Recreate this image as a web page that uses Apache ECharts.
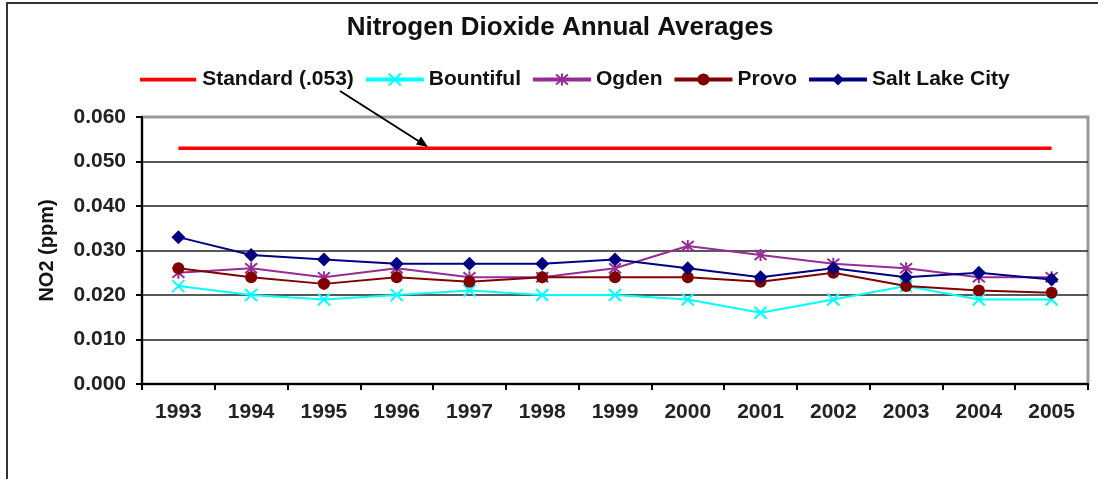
<!DOCTYPE html>
<html>
<head>
<meta charset="utf-8">
<script src="https://cdn.jsdelivr.net/npm/echarts@6/dist/echarts.min.js"></script>
<style>
  body { margin: 0; background: #fff; }
  #main { width: 1098px; height: 479px; }
</style>
</head>
<body>
<div id="main"></div>
<script>
// NO2 annual averages (ppm)
var years = ['1993', '1994', '1995', '1996', '1997', '1998', '1999', '2000', '2001', '2002', '2003', '2004', '2005']
var standard = [0.053, 0.053, 0.053, 0.053, 0.053, 0.053, 0.053, 0.053, 0.053, 0.053, 0.053, 0.053, 0.053]
var bountiful = [0.022, 0.020, 0.019, 0.020, 0.021, 0.020, 0.020, 0.019, 0.016, 0.019, 0.022, 0.019, 0.019]
var ogden = [0.025, 0.026, 0.024, 0.026, 0.024, 0.024, 0.026, 0.031, 0.029, 0.027, 0.026, 0.024, 0.024]
var provo = [0.026, 0.024, 0.0225, 0.024, 0.023, 0.024, 0.024, 0.024, 0.023, 0.025, 0.022, 0.021, 0.0205]
var saltLake = [0.033, 0.029, 0.028, 0.027, 0.027, 0.027, 0.028, 0.026, 0.024, 0.026, 0.024, 0.025, 0.0235]
var yTicks = [0, 0.01, 0.02, 0.03, 0.04, 0.05, 0.06]

var fontFam = '"Liberation Sans", Arial, sans-serif'
var crossPath = 'path://M0,0L10,10M10,0L0,10'
var starPath = 'path://M0,0L10,10M10,0L0,10M5,-1L5,11'
// plain thick bar for the standard line in the legend (empty moves keep the box)
var barIcon = 'path://M0,0L0,0M0,6L60,6L60,10L0,10ZM60,16L60,16'

var myChart = echarts.init(document.getElementById('main'))
var option = {
    animation: false,
    backgroundColor: '#fff',
    title: {
        text: 'Nitrogen Dioxide Annual Averages',
        left: 560,
        top: 15,
        padding: 0,
        textAlign: 'center',
        textStyle: { fontFamily: fontFam, fontSize: 26, fontWeight: 'bold', color: '#111' }
    },
    legend: {
        left: 140,
        top: 69,
        padding: 0,
        itemWidth: 58,
        itemHeight: 15,
        itemGap: 10,
        lineStyle: { width: 4 },
        textStyle: { fontFamily: fontFam, fontSize: 21, fontWeight: 'bold', color: '#111' },
        data: [
            { name: 'Standard (.053)', icon: barIcon },
            'Bountiful', 'Ogden', 'Provo', 'Salt Lake City'
        ]
    },
    grid: {
        left: 142,
        right: 10,
        top: 117,
        bottom: 95,
        show: true,
        borderColor: '#999',
        borderWidth: 3
    },
    xAxis: {
        type: 'category',
        data: years,
        boundaryGap: true,
        axisLine: { lineStyle: { color: '#000', width: 2 } },
        axisTick: { show: true, length: 6, lineStyle: { color: '#000', width: 2 } },
        axisLabel: { margin: 18, fontFamily: fontFam, fontSize: 21, fontWeight: 'bold', color: '#222' }
    },
    yAxis: {
        type: 'value',
        min: yTicks[0],
        max: yTicks[yTicks.length - 1],
        interval: 0.01,
        name: 'NO2 (ppm)',
        nameLocation: 'middle',
        nameGap: 85,
        nameTextStyle: { fontFamily: fontFam, fontSize: 20, fontWeight: 'bold', color: '#111' },
        axisLine: { show: true, lineStyle: { color: '#000', width: 2 } },
        axisTick: { show: true, length: 6, lineStyle: { color: '#000', width: 2 } },
        axisLabel: {
            margin: 16,
            fontFamily: fontFam, fontSize: 21, fontWeight: 'bold', color: '#222',
            formatter: function (v) { return v.toFixed(3) }
        },
        splitLine: { show: true, showMaxLine: false, lineStyle: { color: '#222', width: 1.5 } }
    },
    series: [{
        name: 'Standard (.053)',
        type: 'line',
        data: standard,
        symbol: 'none',
        lineStyle: { color: '#ff0000', width: 3.5 },
        itemStyle: { color: '#ff0000' }
    }, {
        name: 'Bountiful',
        type: 'line',
        data: bountiful,
        symbol: crossPath,
        symbolSize: 12,
        lineStyle: { color: '#00ffff', width: 2 },
        itemStyle: { color: '#00ffff', borderColor: '#00ffff', borderWidth: 2 }
    }, {
        name: 'Ogden',
        type: 'line',
        data: ogden,
        symbol: starPath,
        symbolSize: 12,
        lineStyle: { color: '#962c96', width: 2 },
        itemStyle: { color: '#962c96', borderColor: '#962c96', borderWidth: 2 }
    }, {
        name: 'Provo',
        type: 'line',
        data: provo,
        symbol: 'circle',
        symbolSize: 12,
        lineStyle: { color: '#800000', width: 2 },
        itemStyle: { color: '#800000' }
    }, {
        name: 'Salt Lake City',
        type: 'line',
        data: saltLake,
        symbol: 'diamond',
        symbolSize: 14,
        lineStyle: { color: '#000080', width: 2 },
        itemStyle: { color: '#000080' }
    }],
    graphic: [{
        // outer chart frame
        type: 'rect',
        shape: { x: 7, y: 3, width: 1200, height: 600 },
        style: { fill: 'none', stroke: '#333', lineWidth: 2 },
        silent: true
    }, {
        // arrow from legend label to the standard line
        type: 'line',
        shape: { x1: 340, y1: 91, x2: 420, y2: 142 },
        style: { stroke: '#000', lineWidth: 2 },
        z: 100
    }, {
        type: 'polygon',
        shape: { points: [[428, 147], [416, 144.5], [421, 136.5]] },
        style: { fill: '#000' },
        z: 100
    }]
}
myChart.setOption(option)
</script>
</body>
</html>
